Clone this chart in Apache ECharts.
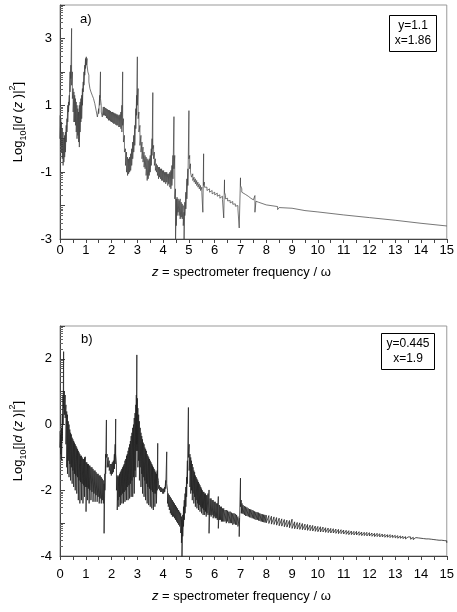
<!DOCTYPE html>
<html>
<head>
<meta charset="utf-8">
<script src="https://cdn.jsdelivr.net/npm/echarts@6/dist/echarts.min.js"></script>
<style>
html,body{margin:0;padding:0;background:#fff;}
#chart{width:457px;height:612px;}
</style>
</head>
<body>
<div id="chart"></div>
<script>
// x tick labels (both panels)
const xTicks = [0,1,2,3,4,5,6,7,8,9,10,11,12,13,14,15];
// y tick labels
const topYTicks = [-3,-1,1,3];
const botYTicks = [-4,-2,0,2];
const topLegend = ['y=1.1','x=1.86'];
const botLegend = ['y=0.445','x=1.9'];
const panelLabels = ['a)','b)'];

// panel a) : [z, upper, lower] of the oscillating trace
const topBand = [
[0.00,0.70,0.00],[0.03,0.60,-0.20],[0.06,0.50,-0.40],[0.09,0.30,-0.60],[0.12,0.20,-0.80],
[0.15,0.00,-0.70],[0.18,0.10,-0.55],[0.21,0.20,-0.40],[0.24,0.40,-0.10],[0.27,0.60,0.20],
[0.30,1.00,0.50],[0.33,1.10,0.80],[0.36,1.30,1.00],[0.39,2.00,1.40],[0.42,2.20,1.80],
[0.45,3.30,1.60],[0.48,2.00,1.20],[0.51,1.50,0.80],[0.54,1.40,0.50],[0.57,1.30,0.50],
[0.60,1.20,0.40],[0.63,1.10,0.20],[0.66,1.00,0.00],[0.69,0.90,0.10],[0.72,0.80,-0.10],
[0.75,1.00,-0.25],[0.78,1.10,0.20],[0.81,1.20,0.50],[0.84,1.30,0.60],[0.87,1.50,1.00],
[0.90,1.70,1.40],[0.93,2.00,1.60],[0.96,2.20,1.90],[0.99,2.40,2.10],[1.02,2.45,2.20],
[1.05,2.40,2.20],[1.08,2.20,2.00],[1.12,1.90,1.70],[1.16,1.65,1.50],[1.20,1.50,1.40],
[1.25,1.40,1.30],[1.30,1.30,1.20],[1.35,1.20,1.05],[1.40,1.00,0.85],[1.45,0.80,0.65],
[1.50,0.90,0.75],[1.54,1.30,1.00],[1.57,2.00,1.20],[1.60,1.00,0.80],[1.64,0.85,0.65],
[1.68,0.95,0.70],[1.72,0.95,0.70],[1.76,0.92,0.68],[1.80,0.90,0.62],[1.84,0.88,0.60],
[1.88,0.86,0.55],[1.92,0.85,0.55],[1.96,0.83,0.52],[2.00,0.80,0.50],[2.04,0.80,0.48],
[2.08,0.78,0.45],[2.12,0.76,0.45],[2.16,0.75,0.42],[2.20,0.73,0.40],[2.24,0.72,0.40],
[2.28,0.70,0.35],[2.32,0.72,0.35],[2.36,0.80,0.30],[2.40,1.00,0.20],[2.43,2.00,0.40],
[2.46,0.60,-0.10],[2.50,0.10,-0.40],[2.54,-0.30,-0.80],[2.58,-0.40,-1.00],[2.62,-0.55,-1.10],
[2.66,-0.60,-1.05],[2.70,-0.55,-1.00],[2.74,-0.45,-0.95],[2.78,-0.30,-0.80],[2.82,-0.10,-0.60],
[2.86,0.10,-0.40],[2.90,0.40,-0.20],[2.94,0.90,0.30],[2.97,1.30,0.70],[3.00,2.45,1.00],
[3.03,1.50,0.60],[3.06,0.80,0.20],[3.10,0.40,-0.20],[3.14,0.10,-0.40],[3.18,-0.10,-0.60],
[3.22,-0.25,-0.70],[3.26,-0.40,-0.85],[3.30,-0.50,-0.90],[3.34,-0.55,-1.10],[3.38,-0.60,-1.25],
[3.42,-0.65,-1.20],[3.46,-0.60,-1.10],[3.50,-0.50,-1.00],[3.54,-0.30,-0.80],[3.57,0.00,-0.50],
[3.60,1.38,-0.30],[3.63,-0.20,-0.60],[3.66,-0.40,-0.80],[3.70,-0.60,-0.95],[3.74,-0.75,-1.00],
[3.78,-0.80,-1.10],[3.82,-0.85,-1.20],[3.86,-0.85,-1.15],[3.90,-0.90,-1.20],[3.94,-0.90,-1.25],
[3.98,-0.95,-1.25],[4.02,-0.95,-1.30],[4.06,-1.00,-1.30],[4.10,-1.00,-1.35],[4.14,-1.00,-1.30],
[4.18,-1.05,-1.40],[4.22,-1.05,-1.35],[4.26,-1.00,-1.45],[4.30,-0.95,-1.50],[4.34,-0.80,-1.40],
[4.38,-0.50,-1.20],[4.42,0.66,-0.90],[4.45,-0.50,-1.80],[4.48,-1.50,-3.20],[4.51,-1.80,-2.60],
[4.54,-1.75,-2.30],[4.58,-1.80,-2.20],[4.62,-1.85,-2.30],[4.66,-1.80,-2.40],[4.70,-1.90,-2.35],
[4.74,-1.95,-2.40],[4.78,-2.00,-2.60],[4.81,-2.20,-3.20],[4.84,-1.90,-2.30],[4.88,-1.60,-2.10],
[4.92,-1.20,-1.80],[4.96,-0.90,-1.40],[5.00,0.84,-0.60],[5.03,-0.50,-0.90],[5.06,-0.75,-1.00],
[5.10,-0.95,-1.15],[5.15,-1.05,-1.25],[5.20,-1.15,-1.30],[5.25,-1.20,-1.35],[5.30,-1.25,-1.40],
[5.35,-1.30,-1.45],[5.40,-1.35,-1.50],[5.45,-1.40,-1.55],[5.50,-1.45,-1.60],[5.54,-1.55,-2.20],
[5.57,-0.45,-1.40],[5.60,-1.30,-1.45],[5.65,-1.40,-1.50],[5.70,-1.45,-1.55],[5.80,-1.50,-1.60],
[5.90,-1.55,-1.65],[6.00,-1.60,-1.68],[6.10,-1.63,-1.72],[6.20,-1.68,-1.78],[6.30,-1.72,-1.82],
[6.35,-1.80,-2.37],[6.38,-1.23,-1.60],[6.42,-1.70,-1.80],[6.50,-1.78,-1.86],[6.60,-1.85,-1.92],
[6.70,-1.88,-1.96],[6.80,-1.95,-2.02],[6.90,-2.00,-2.10],[6.95,-2.10,-2.67],[7.00,-1.17,-1.40],
[7.05,-1.50,-1.60],[7.10,-1.60,-1.65],[7.20,-1.67,-1.70],[7.30,-1.72,-1.75],[7.40,-1.78,-1.80],
[7.50,-1.83,-1.85],[7.56,-1.70,-2.20],[7.60,-1.87,-1.87],[7.70,-1.90,-1.90],[8.00,-1.98,-1.98],
[8.44,-2.03,-2.12],[8.50,-2.06,-2.06],[9.00,-2.08,-2.13],[9.50,-2.15,-2.15],[10.00,-2.19,-2.19],
[11.00,-2.28,-2.28],[12.00,-2.36,-2.36],[13.00,-2.44,-2.44],[14.00,-2.53,-2.53],[15.00,-2.61,-2.61]
];

// panel b) : [z, upper, lower]
const botBand = [
[0.00,-0.20,-0.70],[0.03,-0.30,-0.90],[0.06,-0.10,-1.08],[0.09,0.30,-0.50],[0.12,0.90,0.00],
[0.14,2.22,0.50],[0.17,1.00,0.30],[0.20,0.90,0.20],[0.23,0.60,-0.60],[0.26,0.40,-1.30],
[0.29,0.30,-1.50],[0.32,0.10,-1.10],[0.35,0.00,-1.60],[0.38,-0.15,-1.20],[0.41,-0.25,-1.70],
[0.44,-0.30,-1.30],[0.47,-0.40,-1.80],[0.50,-0.45,-1.40],[0.53,-0.50,-1.90],[0.56,-0.55,-1.50],
[0.59,-0.60,-2.00],[0.62,-0.65,-1.55],[0.65,-0.70,-2.10],[0.68,-0.75,-1.60],[0.71,-0.80,-2.30],
[0.74,-0.85,-1.70],[0.77,-0.90,-2.40],[0.80,-0.95,-1.75],[0.83,-0.95,-2.30],[0.86,-1.00,-1.80],
[0.89,-1.05,-2.40],[0.92,-1.05,-1.85],[0.95,-1.00,-2.20],[0.98,-0.98,-1.90],[1.01,-1.15,-2.65],
[1.04,-1.15,-1.90],[1.07,-1.20,-2.30],[1.10,-1.20,-1.95],[1.13,-1.25,-2.40],[1.16,-1.25,-2.00],
[1.20,-1.30,-2.30],[1.24,-1.30,-2.05],[1.28,-1.35,-2.35],[1.32,-1.40,-2.10],[1.36,-1.40,-2.35],
[1.40,-1.45,-2.15],[1.44,-1.50,-2.35],[1.48,-1.50,-2.20],[1.52,-1.55,-2.40],[1.56,-1.55,-2.25],
[1.60,-1.60,-2.40],[1.64,-1.65,-2.30],[1.68,-1.70,-2.40],[1.71,-1.80,-3.31],[1.74,-1.50,-2.00],
[1.77,-0.90,-1.50],[1.80,0.14,-1.00],[1.83,-0.90,-1.30],[1.87,-1.00,-1.30],[1.91,-1.10,-1.40],
[1.95,-1.20,-1.50],[1.99,-1.20,-1.55],[2.03,-1.15,-1.50],[2.07,-1.10,-1.45],[2.11,-0.90,-1.35],
[2.14,-0.60,-1.20],[2.16,0.17,-0.90],[2.19,-1.20,-2.00],[2.22,-1.55,-2.60],[2.25,-1.60,-2.30],
[2.28,-1.55,-2.50],[2.31,-1.50,-2.20],[2.34,-1.45,-2.45],[2.37,-1.40,-2.15],[2.40,-1.35,-2.40],
[2.43,-1.30,-2.10],[2.46,-1.25,-2.40],[2.49,-1.20,-2.05],[2.52,-1.10,-2.35],[2.55,-1.05,-2.00],
[2.58,-0.95,-2.30],[2.61,-0.90,-1.90],[2.64,-0.80,-2.30],[2.67,-0.70,-1.85],[2.70,-0.60,-2.25],
[2.73,-0.50,-1.80],[2.76,-0.35,-2.20],[2.79,-0.25,-1.70],[2.82,-0.10,-2.20],[2.85,0.00,-1.60],
[2.88,0.20,-2.10],[2.91,0.35,-1.40],[2.94,0.60,-1.60],[2.96,0.90,-0.80],[2.98,2.12,-0.60],
[3.00,0.80,-0.80],[3.02,0.50,-1.30],[3.05,0.30,-1.10],[3.08,0.10,-1.70],[3.11,-0.10,-1.30],
[3.14,-0.25,-1.90],[3.17,-0.35,-1.50],[3.20,-0.45,-2.10],[3.23,-0.55,-1.60],[3.26,-0.60,-2.20],
[3.29,-0.70,-1.70],[3.32,-0.75,-2.30],[3.35,-0.80,-1.80],[3.38,-0.90,-2.40],[3.41,-0.95,-1.90],
[3.44,-1.00,-2.45],[3.47,-1.05,-1.95],[3.50,-1.10,-2.50],[3.53,-1.15,-2.00],[3.56,-1.20,-2.55],
[3.59,-1.25,-2.05],[3.62,-1.30,-2.60],[3.65,-1.35,-2.10],[3.68,-1.40,-2.50],[3.71,-1.45,-2.10],
[3.74,-1.50,-2.40],[3.77,-1.40,-2.00],[3.79,-0.57,-1.60],[3.82,-1.70,-1.95],[3.86,-1.85,-2.00],
[3.90,-1.90,-2.05],[3.94,-1.92,-2.05],[3.98,-1.95,-2.10],[4.02,-1.95,-2.10],[4.06,-1.90,-2.05],
[4.10,-1.70,-1.95],[4.14,-0.83,-1.80],[4.17,-2.00,-2.40],[4.20,-2.10,-2.50],[4.24,-2.15,-2.60],
[4.28,-2.20,-2.70],[4.32,-2.25,-2.75],[4.36,-2.30,-2.80],[4.40,-2.35,-2.80],[4.44,-2.40,-2.85],
[4.48,-2.45,-2.90],[4.52,-2.50,-2.95],[4.56,-2.55,-3.00],[4.60,-2.60,-3.05],[4.64,-2.65,-3.10],
[4.68,-2.70,-3.30],[4.71,-2.80,-3.60],[4.73,-2.90,-4.10],[4.76,-2.75,-3.40],[4.79,-2.50,-3.10],
[4.82,-2.30,-2.90],[4.85,-2.10,-2.70],[4.88,-1.90,-2.50],[4.91,-1.60,-2.20],[4.94,-1.10,-1.80],
[4.98,0.52,-1.00],[5.01,-0.60,-1.40],[5.04,-0.90,-1.90],[5.07,-1.00,-2.10],[5.10,-1.10,-2.00],
[5.13,-1.20,-2.30],[5.16,-1.30,-2.10],[5.19,-1.40,-2.40],[5.22,-1.45,-2.20],[5.25,-1.55,-2.50],
[5.28,-1.60,-2.30],[5.31,-1.65,-2.55],[5.34,-1.70,-2.40],[5.37,-1.75,-2.60],[5.40,-1.80,-2.45],
[5.43,-1.85,-2.65],[5.46,-1.90,-2.50],[5.49,-1.95,-2.70],[5.52,-2.00,-2.55],[5.55,-2.05,-2.75],
[5.58,-2.05,-2.60],[5.61,-2.10,-2.75],[5.64,-2.10,-2.65],[5.67,-2.15,-2.80],[5.70,-2.15,-2.70],
[5.74,-2.10,-2.75],[5.78,-1.99,-3.31],[5.82,-2.25,-2.75],[5.86,-2.25,-2.80],[5.90,-2.30,-2.75],
[5.94,-2.30,-2.85],[5.98,-2.35,-2.80],[6.02,-2.35,-2.85],[6.06,-2.40,-2.85],[6.10,-2.40,-2.90],
[6.14,-2.19,-3.16],[6.18,-2.45,-2.90],[6.22,-2.50,-2.90],[6.26,-2.50,-2.95],[6.30,-2.55,-2.95],
[6.35,-2.55,-2.95],[6.40,-2.60,-2.95],[6.45,-2.60,-3.00],[6.50,-2.62,-2.95],[6.55,-2.65,-3.00],
[6.60,-2.65,-3.00],[6.65,-2.68,-3.00],[6.70,-2.70,-3.05],[6.75,-2.70,-3.02],[6.80,-2.72,-3.05],
[6.85,-2.75,-3.05],[6.90,-2.80,-3.10],[6.95,-2.85,-3.41],[7.00,-1.63,-2.50],[7.03,-2.30,-2.70],
[7.06,-2.40,-2.70],[7.10,-2.45,-2.72],[7.15,-2.48,-2.75],[7.20,-2.50,-2.78],[7.25,-2.52,-2.78],
[7.30,-2.55,-2.80],[7.35,-2.57,-2.82],[7.40,-2.58,-2.83],[7.45,-2.60,-2.85],[7.50,-2.62,-2.86],
[7.55,-2.64,-2.88],[7.60,-2.66,-2.90],[7.65,-2.67,-2.90],[7.70,-2.68,-2.92],[7.75,-2.70,-2.93],
[7.80,-2.72,-2.95],[7.85,-2.73,-2.96],[7.90,-2.74,-2.97],[7.95,-2.75,-2.98],[8.00,-2.76,-2.99],
[8.1,-2.77,-3.01],[8.2,-2.79,-3.03],[8.3,-2.81,-3.04],[8.4,-2.83,-3.06],[8.5,-2.85,-3.08],
[8.6,-2.87,-3.09],[8.7,-2.89,-3.11],[8.8,-2.91,-3.12],[8.9,-2.92,-3.14],[9.0,-2.88,-3.16],
[9.1,-2.96,-3.17],[9.2,-2.98,-3.18],[9.3,-2.99,-3.19],[9.4,-3.01,-3.20],[9.5,-3.03,-3.21],
[9.6,-3.04,-3.22],[9.7,-3.06,-3.23],[9.8,-3.07,-3.24],[9.9,-3.09,-3.25],[10.0,-3.10,-3.26],
[10.1,-3.11,-3.27],[10.2,-3.12,-3.27],[10.3,-3.14,-3.28],[10.4,-3.15,-3.29],[10.5,-3.16,-3.30],
[10.6,-3.17,-3.30],[10.7,-3.18,-3.31],[10.8,-3.19,-3.32],[10.9,-3.20,-3.32],[11.0,-3.21,-3.33],
[11.1,-3.22,-3.34],[11.2,-3.23,-3.35],[11.3,-3.24,-3.35],[11.4,-3.25,-3.36],[11.5,-3.25,-3.36],
[11.6,-3.26,-3.37],[11.7,-3.27,-3.38],[11.8,-3.28,-3.38],[11.9,-3.28,-3.39],[12.0,-3.29,-3.39],
[12.1,-3.30,-3.40],[12.2,-3.31,-3.41],[12.3,-3.31,-3.41],[12.4,-3.32,-3.42],[12.5,-3.33,-3.42],
[12.6,-3.34,-3.43],[12.7,-3.35,-3.43],[12.8,-3.35,-3.44],[12.9,-3.36,-3.44],[13.0,-3.37,-3.45],
[13.1,-3.38,-3.46],[13.2,-3.39,-3.46],[13.3,-3.40,-3.47],[13.4,-3.41,-3.48],[13.5,-3.42,-3.48],
[13.6,-3.42,-3.49],[13.7,-3.43,-3.50],[13.8,-3.44,-3.50],[13.9,-3.45,-3.51],[14.0,-3.46,-3.52],
[14.1,-3.47,-3.53],[14.2,-3.48,-3.53],[14.3,-3.48,-3.54],[14.4,-3.49,-3.55],[14.5,-3.50,-3.56],
[14.6,-3.51,-3.56],[14.7,-3.52,-3.57],[14.8,-3.52,-3.58],[14.9,-3.53,-3.59],[15.0,-3.54,-3.60]
];

function toTrace(rows){
  const out = [];
  rows.forEach(r => {
    out.push([r[0], r[1]]);
    if (r[2] !== r[1]) out.push([r[0], r[2]]);
  });
  return out;
}
function intTicks(lo, hi){ const a=[]; for(let v=lo; v<=hi; v++) a.push(v); return a; }
function logMinor(lo, hi){
  const a=[];
  for(let n=lo; n<hi; n++) for(let k=2;k<=9;k++) a.push(+(n+Math.log10(k)).toFixed(4));
  return a;
}

const FONT = 'Liberation Sans, Arial, sans-serif';
const yName = '{t|Log}{s|10}{t|[|}{i|d}{t| (}{i|z}{t| )|}{p|2}{t|]}';
const yRich = {
  t:{fontFamily:FONT,fontSize:13,color:'#000',lineHeight:20},
  i:{fontFamily:FONT,fontSize:13,fontStyle:'italic',color:'#000',lineHeight:20},
  s:{fontFamily:FONT,fontSize:9,color:'#000',verticalAlign:'bottom',lineHeight:10},
  p:{fontFamily:FONT,fontSize:9,color:'#000',verticalAlign:'top',lineHeight:10}
};
const xName = '{i|z}{t| = spectrometer frequency / ω}';
const xRich = {
  t:{fontFamily:FONT,fontSize:13,color:'#000'},
  i:{fontFamily:FONT,fontSize:13,fontStyle:'italic',color:'#000'}
};

const grids = [
  {left:58, top:5, width:391, height:234},
  {left:58, top:326, width:391, height:230}
];

function xAxisFor(gi, labelMargin, nameGap){
  return {
    type:'value', gridIndex:gi, min:0, max:15, interval:1, position:'bottom',
    axisLine:{show:true, onZero:false, lineStyle:{color:'#444', width:1}},
    axisTick:{show:true, inside:false, length:4, lineStyle:{color:'#444'}},
    minorTick:{show:true, splitNumber:2, length:4, lineStyle:{color:'#444'}},
    splitLine:{show:false},
    axisLabel:{customValues:xTicks, fontFamily:FONT, fontSize:13, color:'#000', margin:labelMargin},
    name:xName, nameLocation:'middle', nameGap:nameGap,
    nameTextStyle:{rich:xRich, padding:[0,24,0,0]}
  };
}
function yAxesFor(gi, lo, hi, labels){
  return [
    {
      type:'value', gridIndex:gi, min:lo, max:hi, position:'left',
      axisLine:{show:true, onZero:false, lineStyle:{color:'#444', width:1}},
      axisTick:{show:true, inside:true, length:5, customValues:intTicks(lo,hi), lineStyle:{color:'#444'}},
      splitLine:{show:false},
      axisLabel:{customValues:labels, fontFamily:FONT, fontSize:13, color:'#000', margin:8},
      name:yName, nameLocation:'middle', nameGap:32, nameRotate:90,
      nameTextStyle:{rich:yRich}
    },
    {
      type:'value', gridIndex:gi, min:lo, max:hi, position:'left',
      axisLine:{show:false, onZero:false},
      axisTick:{show:true, inside:true, length:3, customValues:logMinor(lo,hi), lineStyle:{color:'#666'}},
      splitLine:{show:false},
      axisLabel:{show:false}
    }
  ];
}

function legendBox(x, y, w, h, lines){
  return {
    type:'group', left:x, top:y,
    children:[
      {type:'rect', shape:{x:0,y:0,width:w,height:h}, style:{fill:'#fff', stroke:'#000', lineWidth:1}},
      {type:'text', x:w/2, y:3, style:{text:lines.join('\n'), fontFamily:FONT, fontSize:12, lineHeight:15, fill:'#000', textAlign:'center', textVerticalAlign:'top'}}
    ]
  };
}

const chart = echarts.init(document.getElementById('chart'), null, {renderer:'canvas'});
const ya = yAxesFor(0, -3, 4, topYTicks);
const yb = yAxesFor(1, -4, 3, botYTicks);
chart.setOption({
  animation:false,
  backgroundColor:'#fff',
  grid: grids.map(g => Object.assign({show:true, borderColor:'#999', borderWidth:1, backgroundColor:'transparent'}, g)),
  xAxis:[xAxisFor(0, 5, 27), xAxisFor(1, 12, 34)],
  yAxis:[ya[0], ya[1], yb[0], yb[1]],
  series:[
    {type:'line', xAxisIndex:0, yAxisIndex:0, data:toTrace(topBand), showSymbol:false, symbol:'none',
     lineStyle:{color:'#3c3c3c', width:0.7}, clip:true},
    {type:'line', xAxisIndex:1, yAxisIndex:2, data:toTrace(botBand), showSymbol:false, symbol:'none',
     lineStyle:{color:'#222', width:0.8}, clip:true}
  ],
  graphic:[
    {type:'text', left:80, top:13, style:{text:panelLabels[0], fontFamily:FONT, fontSize:13, fill:'#000'}},
    {type:'text', left:81, top:333, style:{text:panelLabels[1], fontFamily:FONT, fontSize:13, fill:'#000'}},
    legendBox(389, 15, 47, 36, topLegend),
    legendBox(381, 333, 53, 36, botLegend)
  ]
});
</script>
</body>
</html>
